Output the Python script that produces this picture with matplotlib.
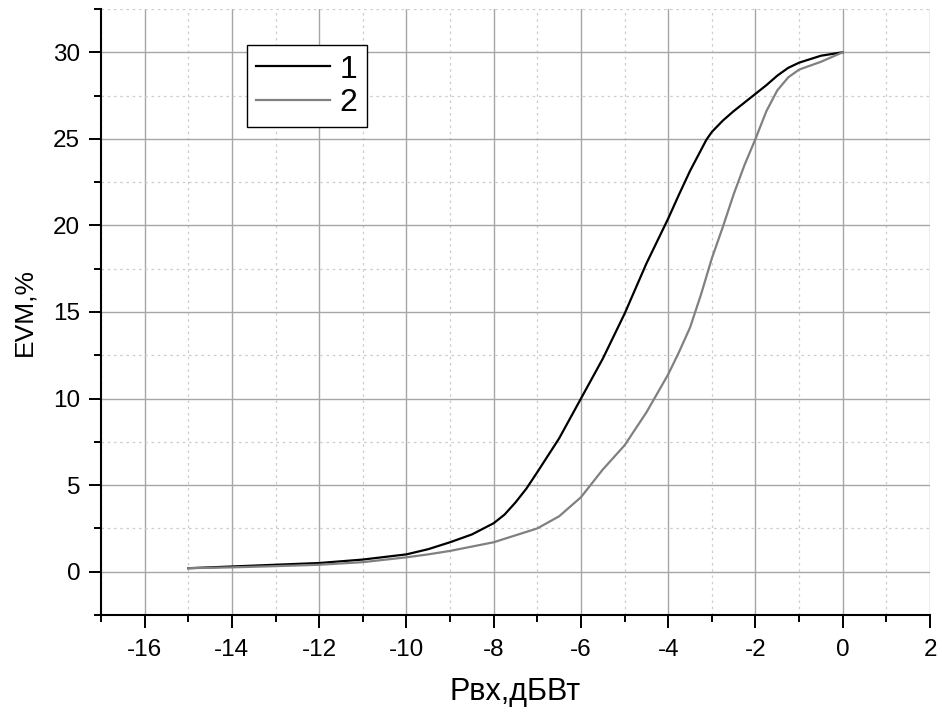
import matplotlib
matplotlib.use("Agg")
import matplotlib.pyplot as plt
from matplotlib.ticker import MultipleLocator

plt.rcParams["font.family"] = ["Liberation Sans", "DejaVu Sans"]
plt.rcParams["axes.unicode_minus"] = False

# Кривая 1
x1 = [-15, -14, -13, -12, -11, -10, -9.5, -9, -8.5, -8, -7.75, -7.5, -7.25, -7,
      -6.5, -6, -5.5, -5, -4.5, -4, -3.75, -3.5, -3.25, -3.125, -3, -2.75,
      -2.5, -2.25, -2, -1.75, -1.5, -1.25, -1, -0.5, 0]
y1 = [0.2, 0.3, 0.4, 0.5, 0.7, 1.0, 1.3, 1.7, 2.15, 2.8, 3.3, 4.0, 4.8, 5.75,
      7.7, 10.0, 12.3, 14.9, 17.8, 20.4, 21.8, 23.15, 24.35, 24.95, 25.4, 26.05,
      26.6, 27.1, 27.6, 28.1, 28.65, 29.1, 29.4, 29.8, 30.0]

# Кривая 2
x2 = [-15, -14, -13, -12, -11, -10, -9.5, -9, -8.5, -8, -7.5, -7, -6.5, -6,
      -5.75, -5.5, -5.25, -5, -4.5, -4, -3.75, -3.5, -3.25, -3, -2.75, -2.5,
      -2.25, -2, -1.75, -1.5, -1.25, -1, -0.5, 0]
y2 = [0.2, 0.25, 0.32, 0.4, 0.55, 0.83, 1.0, 1.2, 1.45, 1.7, 2.1, 2.5, 3.2, 4.3,
      5.1, 5.9, 6.6, 7.3, 9.2, 11.4, 12.7, 14.1, 16.0, 18.1, 19.9, 21.8,
      23.5, 25.0, 26.6, 27.8, 28.55, 29.0, 29.45, 30.0]

fig = plt.figure(figsize=(9.42, 7.18), dpi=100)
ax = fig.add_axes([0.1072, 0.1435, 0.8801, 0.844])

ax.plot(x1, y1, color="black", lw=1.6, label="1")
ax.plot(x2, y2, color="#808080", lw=1.6, label="2")

ax.set_xlim(-17, 2)
ax.set_ylim(-2.5, 32.5)
ax.xaxis.set_major_locator(MultipleLocator(2))
ax.xaxis.set_minor_locator(MultipleLocator(1))
ax.yaxis.set_major_locator(MultipleLocator(5))
ax.yaxis.set_minor_locator(MultipleLocator(2.5))

ax.grid(which="major", color="#a6a6a6", lw=1.0, ls="-")
ax.grid(which="minor", color="#cccccc", lw=0.9, ls=(0, (2, 3)))
ax.set_axisbelow(True)

for s in ["top", "right"]:
    ax.spines[s].set_visible(False)
for s in ["left", "bottom"]:
    ax.spines[s].set_linewidth(1.5)

ax.tick_params(which="major", direction="out", length=9, width=1.4,
               labelsize=17.5, pad=6)
ax.tick_params(which="minor", direction="out", length=5, width=1.4)
ax.tick_params(axis="x", pad=8)

ax.set_xlabel("Рвх,дБВт", fontsize=22, labelpad=12)
ax.set_ylabel("EVM,%", fontsize=19, labelpad=12)

leg = ax.legend(loc="upper left", bbox_to_anchor=(0.176, 0.9406),
                borderaxespad=0, fontsize=23, handlelength=2.3,
                handletextpad=0.3, labelspacing=0.1, borderpad=0.3,
                fancybox=False, framealpha=1)
leg.get_frame().set_edgecolor("black")
leg.get_frame().set_linewidth(1.0)

fig.savefig("out.png", dpi=100)
